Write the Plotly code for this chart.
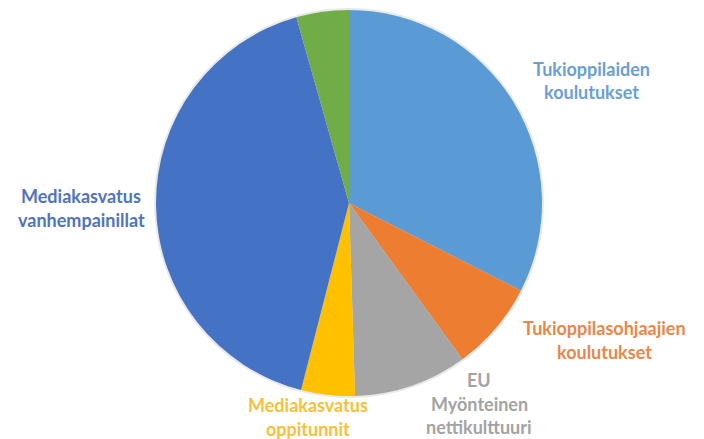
import plotly.graph_objects as go

W, H = 704, 439

# Slice shares (%), read clockwise from 12 o'clock
labels = [
    "Tukioppilaiden koulutukset",
    "Tukioppilasohjaajien koulutukset",
    "EU Myönteinen nettikulttuuri",
    "Mediakasvatus oppitunnit",
    "Mediakasvatus vanhempainillat",
    "Muu",
]
values = [32.5, 7.5, 9.5, 4.5, 41.6, 4.4]
colors = ["#5B9BD5", "#ED7D31", "#A5A5A5", "#FFC000", "#4472C4", "#70AD47"]

# label lines for each slice (green slice label is outside the frame)
label_lines = [
    ["Tukioppilaiden", "koulutukset"],
    ["Tukioppilasohjaajien", "koulutukset"],
    ["EU", "Myönteinen", "nettikulttuuri"],
    ["Mediakasvatus", "oppitunnit"],
    ["Mediakasvatus", "vanhempainillat"],
]
label_colors = ["#6A9FD6", "#E8874B", "#A3A3A3", "#F6C13A", "#4F74BE"]
# (center x px, first line middle y px)
label_anchor = [(591, 69), (604, 328), (479, 380), (308, 405), (81, 196)]
LINE_STEP = 23.5

# pie: center (349, 203) px, radius 193 px
cx, cy, r = 349, 203, 193


def dom(rad):
    return dict(
        x=[(cx - rad) / W, (cx + rad) / W],
        y=[(H - cy - rad) / H, (H - cy + rad) / H],
    )


fig = go.Figure()
# faint halo behind the pie
fig.add_trace(
    go.Pie(
        values=[1],
        sort=False,
        textinfo="none",
        hoverinfo="skip",
        marker=dict(colors=["#E9E9E9"], line=dict(width=0)),
        domain=dom(r + 2),
        showlegend=False,
    )
)
fig.add_trace(
    go.Pie(
        labels=labels,
        values=values,
        sort=False,
        direction="clockwise",
        rotation=0,
        textinfo="none",
        hoverinfo="label+percent",
        marker=dict(colors=colors, line=dict(width=0)),
        domain=dom(r),
        showlegend=False,
    )
)

for lines, col, (x, y0) in zip(label_lines, label_colors, label_anchor):
    for i, line in enumerate(lines):
        fig.add_annotation(
            text=line,
            x=x / W,
            y=1 - (y0 + i * LINE_STEP) / H,
            xref="paper",
            yref="paper",
            showarrow=False,
            xanchor="center",
            yanchor="middle",
            font=dict(family="Lato, Arial, sans-serif", size=18, color=col, weight="bold"),
        )

fig.update_layout(
    width=W,
    height=H,
    paper_bgcolor="white",
    plot_bgcolor="white",
    margin=dict(l=0, r=0, t=0, b=0),
    font=dict(family="Lato, Arial, sans-serif"),
)

fig.write_html(
    "out.html",
    config={"displayModeBar": False},
    post_script="document.body.style.margin='0';",
)
